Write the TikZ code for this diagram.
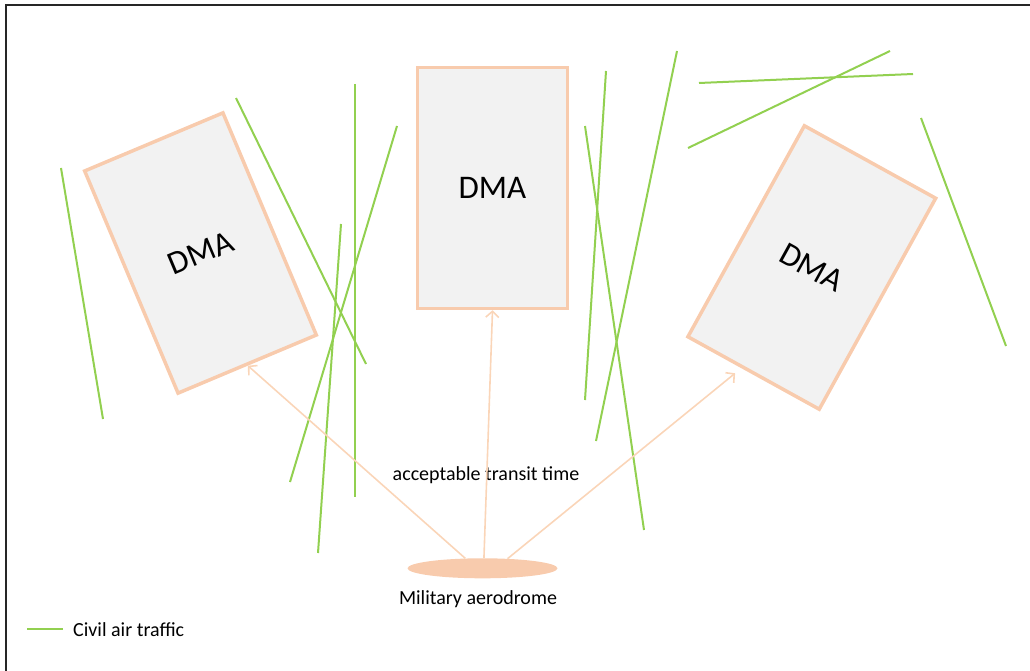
\documentclass[tikz,border=0pt]{standalone}
\usepackage{fontspec}
\setmainfont{Carlito}
\usetikzlibrary{arrows.meta,shapes.geometric,calc}
\definecolor{peach}{HTML}{F8CBAD}
\definecolor{peachl}{HTML}{FAD5B8}
\definecolor{dmafill}{HTML}{F2F2F2}
\definecolor{civilgreen}{HTML}{92D050}
\begin{document}
\begin{tikzpicture}[x=1pt,y=-1pt,
  dmabox/.style={draw=peach, line width=3.5pt, fill=dmafill, minimum width=150pt, minimum height=241pt, inner sep=0pt, font=\fontsize{33}{40}\selectfont},
  civil/.style={civilgreen, line width=2pt},
  transit/.style={peachl, line width=1.6pt, -{Straight Barb[length=6pt,width=13pt]}},
  lbl/.style={font=\fontsize{20}{24}\selectfont, inner sep=0pt}]
\useasboundingbox (0,0) rectangle (1030,671);
\draw[line width=1.5pt, black!85] (6,671) -- (6,5) -- (1030,5);
% civil air traffic
\draw[civil] (61,168) -- (103,419);
\draw[civil] (236,98) -- (366,364);
\draw[civil] (355,84) -- (355,497);
\draw[civil] (397,126) -- (290,482);
\draw[civil] (341,224) -- (318,553);
\draw[civil] (606,71) -- (585,400);
\draw[civil] (585,126) -- (644,530);
\draw[civil] (677,51) -- (596,441);
\draw[civil] (699,83) -- (913,74);
\draw[civil] (890,51) -- (688,148);
\draw[civil] (921,118) -- (1006,346);
% DMAs
\node[dmabox, rotate=22.8] (dma1) at (200.5,253) {DMA};
\node[dmabox] (dma2) at (492.5,188) {DMA};
\node[dmabox, rotate=-28.9] (dma3) at (811.8,267.5) {DMA};
% aerodrome
\node[ellipse, fill=peach, minimum width=150pt, minimum height=20pt, inner sep=0pt] (aero) at (482.5,568.3) {};
\node[lbl, anchor=base] (aerolbl) at (478,604) {Military aerodrome};
\node[lbl, anchor=base] (ttime) at (486,480) {acceptable transit time};
% arrows
\coordinate (t3) at ($(dma3.south west)!0.415!(dma3.south east)$);
\draw[transit] (aero.150) -- (dma1.south);
\draw[transit] (aero.82) -- (dma2.south);
\draw[transit, shorten >=8pt] (aero.21) -- (t3);
% legend
\coordinate (lg1) at (27,629);
\coordinate (lg2) at (63,629);
\draw[civil] (lg1) -- (lg2);
\node[lbl, anchor=base west] (lgtxt) at (73,636) {Civil air traffic};
\end{tikzpicture}
\end{document}
